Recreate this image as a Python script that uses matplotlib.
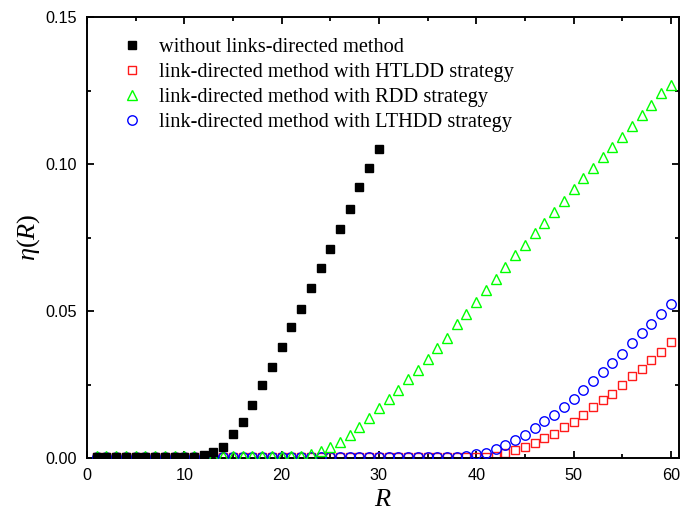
import matplotlib
matplotlib.use("Agg")
import matplotlib.pyplot as plt
from matplotlib.ticker import MultipleLocator

# ---- data ----
r_black = list(range(1, 31))
eta_black = [0.0004, 0.0004, 0.0004, 0.0004, 0.0004, 0.0004, 0.0004, 0.0004, 0.0004, 0.0004,
             0.0005, 0.0009, 0.0019, 0.0038, 0.0082, 0.0123, 0.0179, 0.0248, 0.0309, 0.0377,
             0.0445, 0.0508, 0.0577, 0.0646, 0.0710, 0.0780, 0.0847, 0.0921, 0.0986, 0.1050]

r_all = list(range(1, 61))

eta_htldd = [0.0003] * 40 + [
    0.0004, 0.0008, 0.0016, 0.0026, 0.0036, 0.0052, 0.0068, 0.0083, 0.0104, 0.0121,
    0.0145, 0.0172, 0.0196, 0.0219, 0.0247, 0.0280, 0.0304, 0.0334, 0.0362, 0.0394]

eta_rdd = [0.0008] * 22 + [
    0.0013, 0.0023, 0.0038, 0.0055, 0.0079, 0.0106, 0.0137, 0.0169,
    0.0200, 0.0231, 0.0268, 0.0300, 0.0337, 0.0374, 0.0409, 0.0455, 0.0490, 0.0531,
    0.0570, 0.0608, 0.0651, 0.0689, 0.0726, 0.0765, 0.0800, 0.0838, 0.0873, 0.0914,
    0.0951, 0.0986, 0.1023, 0.1059, 0.1093, 0.1130, 0.1166, 0.1200, 0.1240, 0.1269]

eta_lthdd = [0.0003] * 37 + [
    0.0004, 0.0007, 0.0014, 0.0018, 0.0031, 0.0045, 0.0061, 0.0077, 0.0103, 0.0126,
    0.0146, 0.0173, 0.0202, 0.0230, 0.0261, 0.0294, 0.0322, 0.0354, 0.0392, 0.0424,
    0.0456, 0.0491, 0.0524]

labels = ['without links-directed method',
          'link-directed method with HTLDD strategy',
          'link-directed method with RDD strategy',
          'link-directed method with LTHDD strategy']

plt.rcParams['mathtext.fontset'] = 'custom'
plt.rcParams['mathtext.rm'] = 'Liberation Serif'
plt.rcParams['mathtext.it'] = 'Liberation Serif:italic'

fig = plt.figure(figsize=(6.8, 5.14), dpi=100)
ax = fig.add_axes([87 / 680, 56 / 514, 591.6 / 680, 441 / 514])

h_red, = ax.plot(r_all, eta_htldd, 's', ms=6.3, mfc='none', mec='#ff1a1a', mew=1.0, zorder=2)
h_blue, = ax.plot(r_all, eta_lthdd, 'o', ms=6.8, mfc='none', mec='#0000ff', mew=1.0, zorder=3)
h_green, = ax.plot(r_all, eta_rdd, '^', ms=7.2, mfc='none', mec='#00ff00', mew=1.0, zorder=4)
h_black, = ax.plot(r_black, eta_black, 's', ms=6.3, mfc='black', mec='black', zorder=5)

ax.set_xlim(0, 60.8)
ax.set_ylim(0, 0.15)
ax.xaxis.set_major_locator(MultipleLocator(10))
ax.xaxis.set_minor_locator(MultipleLocator(5))
ax.yaxis.set_major_locator(MultipleLocator(0.05))
ax.yaxis.set_minor_locator(MultipleLocator(0.025))
ax.yaxis.set_major_formatter(plt.FuncFormatter(lambda v, p: f'{v:.2f}'))

ax.tick_params(which='both', direction='in', top=True, right=True, width=1.3,
               labelsize=11.7, pad=7)
ax.tick_params(which='major', length=5)
ax.tick_params(which='minor', length=3)
for lab in ax.get_xticklabels() + ax.get_yticklabels():
    lab.set_fontfamily('Liberation Sans')
for s in ax.spines.values():
    s.set_linewidth(1.4)

ax.set_xlabel(r'$R$', fontsize=19, labelpad=2)
ax.set_ylabel(r'$\eta(R)$', fontsize=19, labelpad=3)

leg = ax.legend([h_black, h_red, h_green, h_blue], labels, loc='upper left',
                bbox_to_anchor=(0.045, 0.972), frameon=False, handlelength=1.0,
                handletextpad=0.8, labelspacing=0.29, borderaxespad=0,
                prop={'family': 'Liberation Serif', 'size': 14.7})

fig.savefig('out.png', dpi=100)
